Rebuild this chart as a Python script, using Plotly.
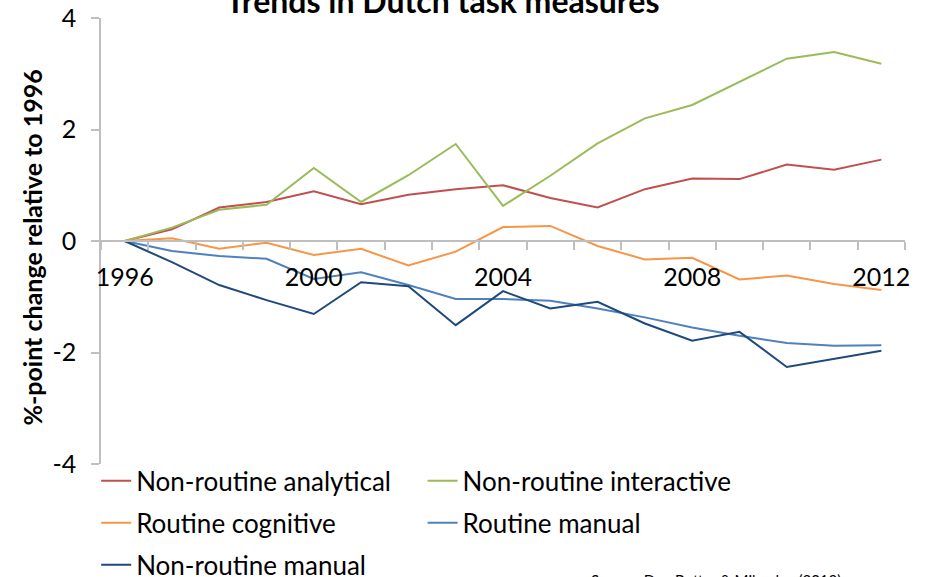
"""Trends in Dutch task measures - line chart recreated with Plotly."""

import plotly.graph_objects as go

# ---- data ----
years = list(range(1996, 2013))

nonroutine_analytical = [0.00, 0.21, 0.60, 0.70, 0.89, 0.66, 0.83, 0.93, 1.00,
                         0.77, 0.60, 0.93, 1.12, 1.11, 1.37, 1.28, 1.46]
nonroutine_interactive = [0.00, 0.24, 0.56, 0.65, 1.31, 0.70, 1.18, 1.74, 0.63,
                          1.17, 1.75, 2.20, 2.44, 2.86, 3.27, 3.39, 3.18]
routine_cognitive = [0.00, 0.05, -0.14, -0.03, -0.25, -0.14, -0.44, -0.19, 0.25,
                     0.27, -0.09, -0.33, -0.30, -0.69, -0.62, -0.77, -0.88]
routine_manual = [0.00, -0.18, -0.27, -0.32, -0.68, -0.56, -0.79, -1.04, -1.04,
                  -1.07, -1.21, -1.37, -1.55, -1.70, -1.83, -1.88, -1.87]
nonroutine_manual = [0.00, -0.38, -0.79, -1.06, -1.31, -0.74, -0.81, -1.51, -0.90,
                     -1.21, -1.09, -1.48, -1.79, -1.63, -2.26, -2.11, -1.97]

series_names = ['Non-routine analytical', 'Non-routine interactive',
                'Routine cognitive', 'Routine manual', 'Non-routine manual']
series_values = [nonroutine_analytical, nonroutine_interactive,
                 routine_cognitive, routine_manual, nonroutine_manual]

x_tick_labels = [1996, 2000, 2004, 2008, 2012]
y_ticks = [-4, -2, 0, 2, 4]
y_tick_text = ['-4', '-2', '0', '2', '4']

# ---- style ----
FONT = 'Lato'
colors = ['#C0504D', '#9BBB59', '#F79646', '#4F81BD', '#1F497D']
axis_grey = '#BFBFBF'

# one legend per entry so that the grid matches the original layout
legend_ids = ['legend', 'legend2', 'legend3', 'legend4', 'legend5']
legend_pos = [(-0.006, -0.038), (0.400, -0.038),
              (-0.006, -0.132), (0.400, -0.132),
              (-0.006, -0.226)]

fig = go.Figure()
for name, vals, col, lid in zip(series_names, series_values, colors, legend_ids):
    fig.add_trace(go.Scatter(
        x=years, y=vals, mode='lines', name=name,
        line=dict(color=col, width=2),
        legend=lid,
    ))

legend_layout = {}
for lid, (lx, ly) in zip(legend_ids, legend_pos):
    legend_layout[lid] = dict(
        x=lx, y=ly, xanchor='left', yanchor='middle',
        xref='paper', yref='paper',
        bgcolor='rgba(0,0,0,0)', borderwidth=0,
        font=dict(family=FONT, size=26, color='#000000'),
        itemwidth=30,
    )

fig.update_layout(
    width=926, height=577,
    margin=dict(l=101, r=21, t=18, b=113, autoexpand=False),
    paper_bgcolor='white', plot_bgcolor='white',
    font=dict(family=FONT, size=24, color='#000000'),
    showlegend=True,
    title=dict(
        text='<b>Trends in Dutch task measures</b>',
        x=0.478, xref='container', xanchor='center',
        y=0.997, yref='container', yanchor='middle',
        font=dict(family=FONT, size=32, color='#000000'),
    ),
    xaxis=dict(
        range=[1995.5, 2012.5],
        anchor='free', position=0.5,
        showline=True, linecolor=axis_grey, linewidth=2,
        showgrid=False, zeroline=False,
        tickmode='array', tickvals=x_tick_labels,
        ticks='', ticklabelstandoff=14,
        tickfont=dict(family=FONT, size=25, color='#000000'),
        minor=dict(ticks='outside', ticklen=8, tickcolor=axis_grey,
                   tickwidth=1.5, tick0=1995.5, dtick=1, showgrid=False),
    ),
    yaxis=dict(
        range=[-4, 4],
        showline=True, linecolor=axis_grey, linewidth=1.5,
        showgrid=False, zeroline=False,
        tickmode='array', tickvals=y_ticks, ticktext=y_tick_text,
        ticks='outside', ticklen=8, tickcolor=axis_grey, tickwidth=1.5,
        ticklabelstandoff=10,
        tickfont=dict(family=FONT, size=25, color='#000000'),
    ),
    annotations=[
        dict(text='<b>%-point change relative to 1996</b>',
             xref='paper', yref='paper', x=-0.086, y=0.485,
             xanchor='center', yanchor='middle', textangle=-90,
             showarrow=False, font=dict(family=FONT, size=25, color='#000000')),
        dict(text='Source: Den Butter & Mihaylov (2013)',
             xref='paper', yref='paper', x=0.607, y=-0.236,
             xanchor='left', yanchor='top',
             showarrow=False, font=dict(family=FONT, size=15, color='#000000')),
    ],
    **legend_layout,
)

# drop the browser's default 8px body margin so the figure sits at the page origin
fig.write_html("out.html",
               config={'displayModeBar': False},
               post_script="document.body.style.margin='0';document.body.style.padding='0';")
